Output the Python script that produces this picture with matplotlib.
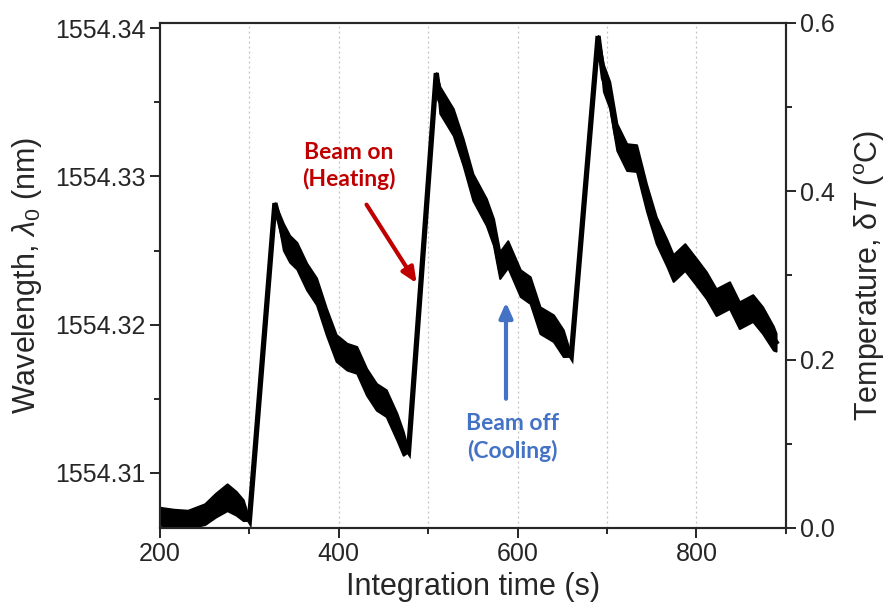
import matplotlib
matplotlib.use('Agg')
import matplotlib.pyplot as plt
from matplotlib.ticker import MultipleLocator
import numpy as np

plt.rcParams['font.family'] = ['Liberation Sans', 'DejaVu Sans']
plt.rcParams['mathtext.fontset'] = 'custom'
plt.rcParams['mathtext.rm'] = 'Liberation Sans'
plt.rcParams['mathtext.it'] = 'Liberation Sans:italic'

# integration time (s) and resonance wavelength (nm)
time = [200, 215, 231, 250, 262, 275, 285, 293, 300,
        328.5, 338, 345, 353, 364, 375, 386, 397, 409, 420, 431, 442, 453, 465, 472, 478,
        509, 513, 528, 539, 550, 565, 573, 580, 589, 603, 614, 625, 640, 651, 660,
        690, 696, 703, 711, 722, 733, 744, 755, 767, 774, 787, 800, 811, 822, 837,
        848, 863, 874, 886, 889]
wavelength = [1554.30707, 1554.30694, 1554.30687, 1554.30721, 1554.30781, 1554.30835,
              1554.30795, 1554.30748, 1554.30680,
              1554.32820, 1554.32592, 1554.32512, 1554.32465, 1554.32325, 1554.32225,
              1554.32021, 1554.31843, 1554.31784, 1554.31762, 1554.31614, 1554.31513,
              1554.31470, 1554.31310, 1554.31199, 1554.31145,
              1554.33698, 1554.33516, 1554.33367, 1554.33165, 1554.32928, 1554.32760,
              1554.32625, 1554.32402, 1554.32476, 1554.32280, 1554.32233, 1554.32030,
              1554.31976, 1554.31875, 1554.31787,
              1554.33948, 1554.33664, 1554.33550, 1554.33266, 1554.33131, 1554.33124,
              1554.32861, 1554.32638, 1554.32483, 1554.32382, 1554.32456, 1554.32355,
              1554.32267, 1554.32152, 1554.32199, 1554.32064, 1554.32112, 1554.32030,
              1554.31909, 1554.31882]
# half width of the noise band around the trace (nm)
spread = [0.0006, 0.0006, 0.0006, 0.0007, 0.0008, 0.0009, 0.0008, 0.0007, 0.0,
          0.0, 0.0009, 0.0009, 0.0009, 0.0009, 0.0009, 0.0009, 0.0009, 0.0009, 0.0009,
          0.0009, 0.0009, 0.0009, 0.0009, 0.0008, 0.0,
          0.0, 0.0009, 0.0009, 0.0009, 0.0009, 0.0009, 0.0009, 0.0009, 0.0009, 0.0009,
          0.0009, 0.0009, 0.0009, 0.0009, 0.0,
          0.0, 0.0009, 0.0009, 0.0009, 0.0009, 0.0009, 0.0009, 0.0009, 0.0009, 0.0009,
          0.0009, 0.0009, 0.0009, 0.0009, 0.0009, 0.0009, 0.0009, 0.0009, 0.0008, 0.0006]

dark = '#262626'
t = np.array(time)
w = np.array(wavelength)
s = np.array(spread)

fig = plt.figure(figsize=(8.94, 6.13), dpi=100)
ax = fig.add_axes([0.179, 0.139, 0.700, 0.8235])

for gx in [300, 400, 500, 600, 700, 800]:
    ax.axvline(gx, color='#c0c0c0', lw=0.9, ls=(0, (1.5, 2.5)), zorder=0)

ax.fill_between(t, w - s, w + s, color='black', lw=1.5, edgecolor='black', zorder=2)
ax.plot(t, w, color='black', lw=3.8, solid_joinstyle='miter', zorder=3)

ax.set_xlim(200, 900)
ax.set_ylim(1554.30629, 1554.34036)
ax.xaxis.set_major_locator(MultipleLocator(200))
ax.xaxis.set_minor_locator(MultipleLocator(100))
ax.yaxis.set_major_locator(MultipleLocator(0.01))
ax.yaxis.set_minor_locator(MultipleLocator(0.005))
ax.yaxis.set_major_formatter(matplotlib.ticker.FormatStrFormatter('%.2f'))
ax.tick_params(which='both', direction='out', colors=dark, labelsize=18, width=1.4)
ax.tick_params(which='major', length=7)
ax.tick_params(which='minor', length=4)
ax.set_xlabel('Integration time (s)', fontsize=22, color=dark, labelpad=4)
ax.set_ylabel(r'Wavelength, $\lambda_0$ (nm)', fontsize=22, color=dark, labelpad=8)

ax2 = ax.twinx()
ax2.set_ylim(0, 0.6)
ax2.yaxis.set_major_locator(MultipleLocator(0.2))
ax2.yaxis.set_minor_locator(MultipleLocator(0.1))
ax2.yaxis.set_major_formatter(matplotlib.ticker.FormatStrFormatter('%.1f'))
ax2.tick_params(which='both', direction='out', colors=dark, labelsize=18, width=1.4)
ax2.tick_params(which='major', length=7)
ax2.tick_params(which='minor', length=4)
ax2.set_ylabel(r'Temperature, $\mathrm{\delta}\mathit{T}$ ($^{\mathrm{o}}$C)', fontsize=22,
               color=dark, labelpad=12)

for a in (ax, ax2):
    for sp in a.spines.values():
        sp.set_linewidth(1.5)
        sp.set_color(dark)

ax.annotate('', xy=(487, 1554.3228), xytext=(431, 1554.3281),
            arrowprops=dict(arrowstyle='-|>,head_length=0.9,head_width=0.4',
                            color='#C00000', lw=3, shrinkA=0, shrinkB=0))
ax.text(411, 1554.3307, 'Beam on\n(Heating)', color='#C00000', fontsize=16.5,
        fontweight='bold', family='Lato', ha='center', va='center', linespacing=1.3)

ax.annotate('', xy=(587, 1554.3215), xytext=(587, 1554.3150),
            arrowprops=dict(arrowstyle='-|>,head_length=0.9,head_width=0.4',
                            color='#4472C4', lw=3, shrinkA=0, shrinkB=0))
ax.text(594.5, 1554.3124, 'Beam off\n(Cooling)', color='#4472C4', fontsize=16.5,
        fontweight='bold', family='Lato', ha='center', va='center', linespacing=1.3)

fig.savefig('out.png', dpi=100)
